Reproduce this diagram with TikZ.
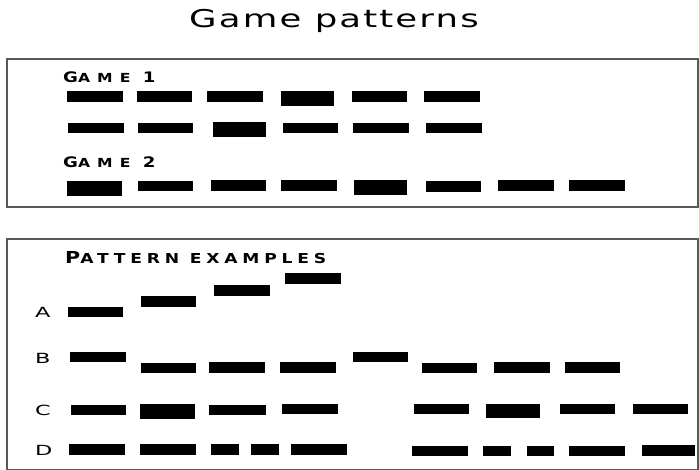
\documentclass[tikz,border=0pt]{standalone}
\usepackage{fontspec}
\newfontfamily\titlefont[LetterSpace=6]{DejaVu Sans}
\newfontfamily\gamefont[LetterSpace=45]{DejaVu Sans}
\newfontfamily\patfont[LetterSpace=28]{DejaVu Sans}
\newfontfamily\rowfont{DejaVu Sans}
\newcommand{\fsz}[1]{\fontsize{#1}{#1}\selectfont}
\begin{document}
\begin{tikzpicture}[x=1pt,y=-1pt,
  bar/.style={fill=black},
  frame/.style={draw=black!65,line width=1.3pt},
  lbl/.style={inner sep=0pt,anchor=base west}]
\useasboundingbox (0,0) rectangle (699,470);
% title
\node[inner sep=0pt,anchor=base] (title) at (334,28)
  {\scalebox{1.45}[1]{\titlefont\fsz{24.5}Game patterns}};
% frames
\draw[frame] (7,59) rectangle (698,207);
\draw[frame] (7,239) rectangle (698,469.4);
% labels
\node[lbl] (g1) at (63,83) {\scalebox{1.25}[1]{\gamefont\bfseries\fsz{14.5}G\fsz{12.5}AME \fsz{14.5}1}};
\node[lbl] (g2) at (63,168) {\scalebox{1.25}[1]{\gamefont\bfseries\fsz{14.5}G\fsz{12.5}AME \fsz{14.5}2}};
\node[lbl] (pe) at (65,264) {\scalebox{1.25}[1]{\patfont\bfseries\fsz{16.5}P\fsz{13.7}ATTERN EXAMPLES}};
\node[lbl] (la) at (35,318) {\scalebox{1.6}[1]{\rowfont\fsz{14}A}};
\node[lbl] (lb) at (35,363) {\scalebox{1.6}[1]{\rowfont\fsz{14}B}};
\node[lbl] (lc) at (35,415) {\scalebox{1.6}[1]{\rowfont\fsz{14}C}};
\node[lbl] (ld) at (35,455) {\scalebox{1.6}[1]{\rowfont\fsz{14}D}};
% game 1 row 1
\foreach \a/\b/\c/\d in {67/91/123/102,137/91/192/102,207/91/263/102,281/91/334/106,352/91/407/102,424/91/480/102}
  \fill[bar] (\a,\b) rectangle (\c,\d);
% game 1 row 2
\foreach \a/\b/\c/\d in {68/123/124/133,138/123/193/133,213/122/266/137,283/123/338/133,353/123/409/133,426/123/482/133}
  \fill[bar] (\a,\b) rectangle (\c,\d);
% game 2
\foreach \a/\b/\c/\d in {67/181/122/196,138/181/193/191,211/180/266/191,281/180/337/191,354/180/407/195,426/181/481/192,498/180/554/191,569/180/625/191}
  \fill[bar] (\a,\b) rectangle (\c,\d);
% pattern A
\foreach \a/\b/\c/\d in {68/307/123/317,141/296/196/307,214/285/270/296,285/273/341/284}
  \fill[bar] (\a,\b) rectangle (\c,\d);
% pattern B
\foreach \a/\b/\c/\d in {70/352/126/362,141/363/196/373,209/362/265/373,280/362/336/373,353/352/408/362,422/363/477/373,494/362/550/373,565/362/620/373}
  \fill[bar] (\a,\b) rectangle (\c,\d);
% pattern C
\foreach \a/\b/\c/\d in {71/405/126/415,140/404/195/419,209/405/266/415,282/404/338/414,414/404/469/414,486/404/540/418,560/404/615/414,633/404/688/414}
  \fill[bar] (\a,\b) rectangle (\c,\d);
% pattern D
\foreach \a/\b/\c/\d in {69/444/125/455,140/444/196/455,211/444/239/455,251/444/279/455,291/444/347/455,412/446/468/456,483/446/511/456,527/446/554/456,569/446/625/456,642/445/695/456}
  \fill[bar] (\a,\b) rectangle (\c,\d);
\end{tikzpicture}
\end{document}
